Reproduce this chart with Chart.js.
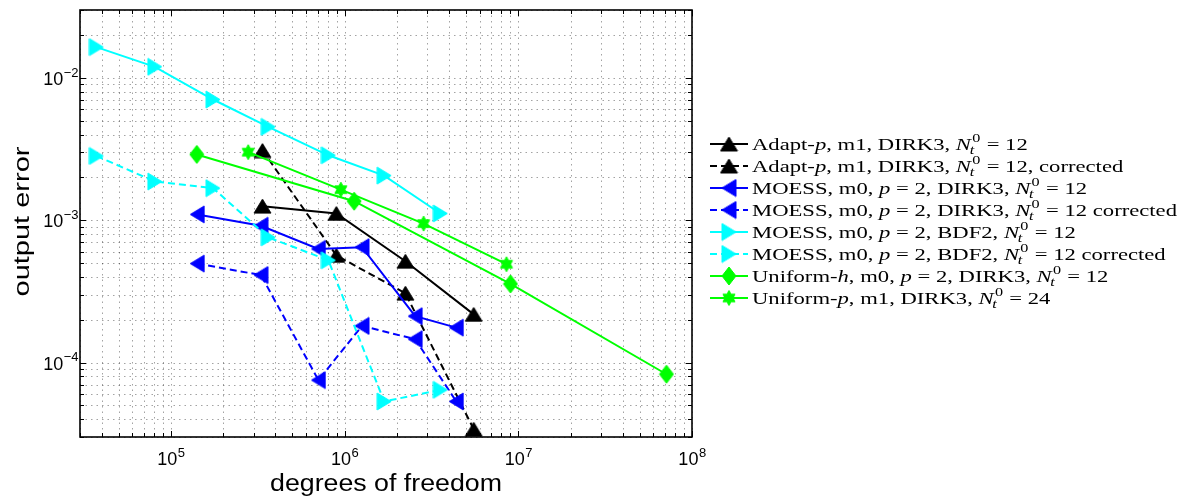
<!DOCTYPE html>
<html><head><meta charset="utf-8">
<script src="https://cdn.jsdelivr.net/npm/chart.js@4.4.1/dist/chart.umd.min.js"></script>
<style>html,body{margin:0;padding:0;background:#fff;}canvas{display:block;}</style>
</head><body>
<canvas id="c" width="1188" height="501"></canvas>
<script>
// ---------------- data ----------------
const adaptDofs      = [3.37e5, 8.97e5, 2.24e6, 5.54e6];
const adaptErr       = [1.256e-3, 1.116e-3, 5.15e-4, 2.18e-4];
const adaptCorrErr   = [3.09e-3, 5.66e-4, 3.07e-4, 3.40e-5];

const moessDofs      = [1.42e5, 3.30e5, 7.07e5, 1.26e6, 2.55e6, 4.40e6];
const moessErr       = [1.099e-3, 9.14e-4, 6.29e-4, 6.47e-4, 2.12e-4, 1.76e-4];
const moessCorrErr   = [4.96e-4, 4.12e-4, 7.53e-5, 1.81e-4, 1.46e-4, 5.33e-5];

const bdfDofs        = [3.73e4, 8.09e4, 1.75e5, 3.64e5, 8.07e5, 1.69e6, 3.56e6];
const bdfErr         = [1.646e-2, 1.197e-2, 7.05e-3, 4.53e-3, 2.86e-3, 2.06e-3, 1.116e-3];
const bdfCorrErr     = [2.83e-3, 1.87e-3, 1.68e-3, 7.58e-4, 5.23e-4, 5.33e-5, 6.43e-5];

const uniHDofs       = [1.41e5, 1.136e6, 9.02e6, 7.13e7];
const uniHErr        = [2.90e-3, 1.36e-3, 3.57e-4, 8.28e-5];

const uniPDofs       = [2.79e5, 9.52e5, 2.85e6, 8.55e6];
const uniPErr        = [3.01e-3, 1.64e-3, 9.47e-4, 4.91e-4];

const xTickValues    = [1e5, 1e6, 1e7, 1e8];
const xTickExponents = ['5', '6', '7', '8'];
const yTickValues    = [1e-4, 1e-3, 1e-2];
const yTickExponents = ['\u22124', '\u22123', '\u22122'];

const xAxisTitle = 'degrees of freedom';
const yAxisTitle = 'output error';

// legend labels: r = roman, i = italic, N = N_t^0
const legendLabels = [
  [['r','Adapt-'],['i','p'],['r',', m1, DIRK3, '],['N'],['r',' = 12']],
  [['r','Adapt-'],['i','p'],['r',', m1, DIRK3, '],['N'],['r',' = 12, corrected']],
  [['r','MOESS, m0, '],['i','p'],['r',' = 2, DIRK3, '],['N'],['r',' = 12']],
  [['r','MOESS, m0, '],['i','p'],['r',' = 2, DIRK3, '],['N'],['r',' = 12 corrected']],
  [['r','MOESS, m0, '],['i','p'],['r',' = 2, BDF2, '],['N'],['r',' = 12']],
  [['r','MOESS, m0, '],['i','p'],['r',' = 2, BDF2, '],['N'],['r',' = 12 corrected']],
  [['r','Uniform-'],['i','h'],['r',', m0, '],['i','p'],['r',' = 2, DIRK3, '],['N'],['r',' = 12']],
  [['r','Uniform-'],['i','p'],['r',', m1, DIRK3, '],['N'],['r',' = 24']]
];

// ---------------- markers ----------------
function makeMarker(shape, color) {
  const dims = {up:[17,14], left:[14,17], right:[14,17], diamond:[14,18], hex:[14,15]}[shape];
  const c = document.createElement('canvas');
  c.width = dims[0] + 2; c.height = dims[1] + 2;
  const g = c.getContext('2d');
  const w = dims[0], h = dims[1], ox = 1, oy = 1;
  g.fillStyle = color; g.strokeStyle = color; g.lineWidth = 1;
  g.beginPath();
  if (shape === 'up') { g.moveTo(ox + w/2, oy); g.lineTo(ox + w, oy + h); g.lineTo(ox, oy + h); }
  else if (shape === 'left') { g.moveTo(ox, oy + h/2); g.lineTo(ox + w, oy); g.lineTo(ox + w, oy + h); }
  else if (shape === 'right') { g.moveTo(ox + w, oy + h/2); g.lineTo(ox, oy); g.lineTo(ox, oy + h); }
  else if (shape === 'diamond') { g.moveTo(ox + w/2, oy); g.lineTo(ox + w, oy + h/2); g.lineTo(ox + w/2, oy + h); g.lineTo(ox, oy + h/2); }
  else {
    const cx = ox + w/2, cy = oy + h/2, R = h/2, r = R / Math.sqrt(3);
    for (let k = 0; k < 12; k++) {
      const ang = -Math.PI/2 + k * Math.PI/6;
      const rr = (k % 2 === 0) ? R : r;
      const px = cx + Math.cos(ang) * rr * (w/h), py = cy + Math.sin(ang) * rr;
      if (k === 0) g.moveTo(px, py); else g.lineTo(px, py);
    }
  }
  g.closePath(); g.fill(); g.stroke();
  return c;
}

const BLACK = '#000000', BLUE = '#0000ff', CYAN = '#00ffff', GREEN = '#00ff00';
const DASH = [7, 4];

const seriesDefs = [
  {dofs: adaptDofs, err: adaptErr,     color: BLACK, dash: [],   shape: 'up'},
  {dofs: adaptDofs, err: adaptCorrErr, color: BLACK, dash: DASH, shape: 'up'},
  {dofs: moessDofs, err: moessErr,     color: BLUE,  dash: [],   shape: 'left'},
  {dofs: moessDofs, err: moessCorrErr, color: BLUE,  dash: DASH, shape: 'left'},
  {dofs: bdfDofs,   err: bdfErr,       color: CYAN,  dash: [],   shape: 'right'},
  {dofs: bdfDofs,   err: bdfCorrErr,   color: CYAN,  dash: DASH, shape: 'right'},
  {dofs: uniHDofs,  err: uniHErr,      color: GREEN, dash: [],   shape: 'diamond'},
  {dofs: uniPDofs,  err: uniPErr,      color: GREEN, dash: [],   shape: 'hex'}
];
seriesDefs.forEach(s => s.marker = makeMarker(s.shape, s.color));

const datasets = seriesDefs.map((s, i) => ({
  label: 'series' + i,
  data: s.dofs.map((x, j) => ({x: x, y: s.err[j]})),
  borderColor: s.color,
  backgroundColor: s.color,
  borderWidth: 2,
  borderDash: s.dash,
  pointStyle: s.marker,
  pointRadius: 8,
  pointHoverRadius: 8,
  tension: 0,
  fill: false,
  clip: false,
  order: 8 - i
}));

// ---------------- decorations ----------------
const SANS = '"Liberation Sans", Arial, sans-serif';
const SERIF = '"Liberation Serif", "Times New Roman", serif';

function gridValues(min, max) {
  const out = [];
  for (let e = Math.floor(Math.log10(min)); e <= Math.ceil(Math.log10(max)); e++) {
    for (let m = 1; m <= 9; m++) {
      const v = m * Math.pow(10, e);
      if (v >= min * 0.999 && v <= max * 1.001) out.push({v: v, major: m === 1});
    }
  }
  return out;
}

function drawRich(ctx, segs, x, base, doDraw) {
  let cx = x;
  const FS = 17.5, SS = 12.5;
  for (const s of segs) {
    if (s[0] === 'N') {
      ctx.font = 'italic ' + FS + 'px ' + SERIF;
      if (doDraw) ctx.fillText('N', cx, base);
      cx += ctx.measureText('N').width;
      ctx.font = 'italic ' + SS + 'px ' + SERIF;
      const ws = ctx.measureText('t').width;
      if (doDraw) ctx.fillText('t', cx - 1, base + 4);
      ctx.font = SS + 'px ' + SERIF;
      const wp = ctx.measureText('0').width;
      if (doDraw) ctx.fillText('0', cx + 1, base - 7.5);
      cx += Math.max(ws, wp + 1) + 0.5;
    } else {
      ctx.font = (s[0] === 'i' ? 'italic ' : '') + FS + 'px ' + SERIF;
      if (doDraw) ctx.fillText(s[1], cx, base);
      cx += ctx.measureText(s[1]).width;
    }
  }
  return cx - x;
}

const decor = {
  id: 'decor',
  beforeDatasetsDraw(chart) {
    const {ctx, chartArea: a, scales: {x, y}} = chart;
    ctx.save();
    ctx.strokeStyle = 'rgba(0,0,0,0.36)';
    ctx.lineWidth = 1;
    ctx.setLineDash([1.5, 4]);
    const gx = gridValues(x.min, x.max), gy = gridValues(y.min, y.max);
    gx.forEach(t => {
      const px = Math.round(x.getPixelForValue(t.v)) + 0.5;
      ctx.beginPath(); ctx.moveTo(px, a.top); ctx.lineTo(px, a.bottom); ctx.stroke();
    });
    gy.forEach(t => {
      const py = Math.round(y.getPixelForValue(t.v)) + 0.5;
      ctx.beginPath(); ctx.moveTo(a.left, py); ctx.lineTo(a.right, py); ctx.stroke();
    });
    ctx.setLineDash([]);
    ctx.strokeStyle = '#000';
    ctx.lineWidth = 1;
    gx.forEach(t => {
      const px = Math.round(x.getPixelForValue(t.v)) + 0.5, L = t.major ? 6 : 4;
      ctx.beginPath();
      ctx.moveTo(px, a.bottom); ctx.lineTo(px, a.bottom - L);
      ctx.moveTo(px, a.top); ctx.lineTo(px, a.top + L);
      ctx.stroke();
    });
    gy.forEach(t => {
      const py = Math.round(y.getPixelForValue(t.v)) + 0.5, L = t.major ? 6 : 4;
      ctx.beginPath();
      ctx.moveTo(a.left, py); ctx.lineTo(a.left + L, py);
      ctx.moveTo(a.right, py); ctx.lineTo(a.right - L, py);
      ctx.stroke();
    });
    ctx.lineWidth = 1.6;
    ctx.strokeRect(a.left, a.top, a.right - a.left, a.bottom - a.top);
    ctx.restore();
  },
  afterDraw(chart) {
    const {ctx, chartArea: a, scales: {x, y}} = chart;
    ctx.save();
    ctx.fillStyle = '#000';
    ctx.textAlign = 'left';
    ctx.textBaseline = 'alphabetic';
    // x tick labels
    xTickValues.forEach((v, i) => {
      const px = x.getPixelForValue(v);
      ctx.font = '18px ' + SANS; const w1 = ctx.measureText('10').width;
      ctx.font = '13px ' + SANS; const w2 = ctx.measureText(xTickExponents[i]).width;
      const x0 = px - (w1 + w2) / 2;
      ctx.font = '18px ' + SANS; ctx.fillText('10', x0, a.bottom + 28);
      ctx.font = '13px ' + SANS; ctx.fillText(xTickExponents[i], x0 + w1 + 0.5, a.bottom + 19.7);
    });
    // y tick labels
    yTickValues.forEach((v, i) => {
      const py = y.getPixelForValue(v);
      ctx.font = '18px ' + SANS; const w1 = ctx.measureText('10').width;
      ctx.font = '13px ' + SANS; const w2 = ctx.measureText(yTickExponents[i]).width;
      const x0 = a.left - 2 - w1 - w2;
      ctx.font = '18px ' + SANS; ctx.fillText('10', x0, py + 7);
      ctx.font = '13px ' + SANS; ctx.fillText(yTickExponents[i], x0 + w1 + 0.5, py - 1.3);
    });
    // x title
    ctx.font = '23px ' + SANS;
    let w = ctx.measureText(xAxisTitle).width;
    ctx.save();
    ctx.translate((a.left + a.right) / 2 + 0, a.bottom + 54);
    ctx.scale(232 / w, 1);
    ctx.textAlign = 'center';
    ctx.fillText(xAxisTitle, 0, 0);
    ctx.restore();
    // y title
    ctx.font = '22px ' + SANS;
    w = ctx.measureText(yAxisTitle).width;
    ctx.save();
    ctx.translate(28.5, (a.top + a.bottom) / 2 - 2);
    ctx.rotate(-Math.PI / 2);
    ctx.scale(150 / w, 1);
    ctx.textAlign = 'center';
    ctx.fillText(yAxisTitle, 0, 0);
    ctx.restore();
    // legend
    const lx0 = 710, lx1 = 748, tx = 752, row0 = 144, dy = 22;
    const wRef = drawRich(ctx, legendLabels[3], 0, 0, false);
    const sx = 425 / wRef;
    seriesDefs.forEach((s, i) => {
      const yy = row0 + i * dy;
      ctx.save();
      ctx.strokeStyle = s.color; ctx.lineWidth = 2; ctx.setLineDash(s.dash);
      ctx.beginPath(); ctx.moveTo(lx0, yy); ctx.lineTo(lx1, yy); ctx.stroke();
      ctx.setLineDash([]);
      ctx.drawImage(s.marker, (lx0 + lx1) / 2 - s.marker.width / 2, yy - s.marker.height / 2);
      ctx.restore();
      ctx.save();
      ctx.translate(tx, yy + 5.8);
      ctx.scale(sx, 1);
      ctx.fillStyle = '#000';
      drawRich(ctx, legendLabels[i], 0, 0, true);
      ctx.restore();
    });
    ctx.restore();
  }
};

new Chart(document.getElementById('c'), {
  type: 'line',
  data: {datasets: datasets},
  options: {
    responsive: false,
    animation: false,
    devicePixelRatio: 1,
    events: [],
    layout: {padding: {left: 80, top: 4, right: 496, bottom: 64}},
    plugins: {legend: {display: false}, tooltip: {enabled: false}},
    scales: {
      x: {type: 'logarithmic', min: 3e4, max: 1e8, display: false},
      y: {type: 'logarithmic', min: 3e-5, max: 3e-2, display: false}
    }
  },
  plugins: [decor]
});
</script>
</body></html>
